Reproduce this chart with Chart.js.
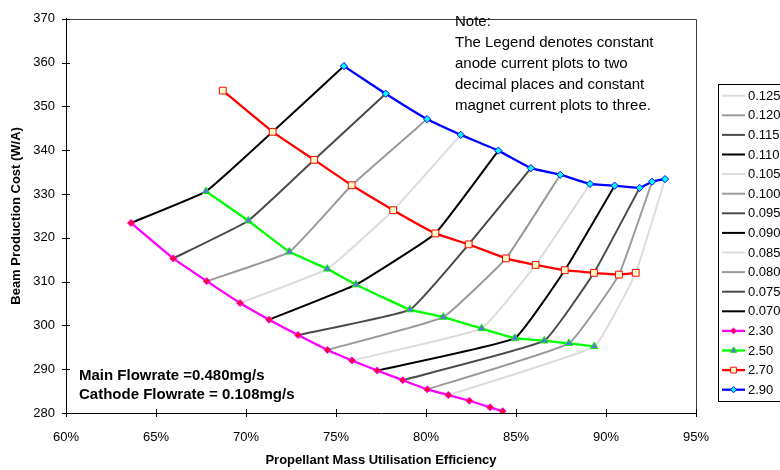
<!DOCTYPE html>
<html><head><meta charset="utf-8">
<script src="https://cdn.jsdelivr.net/npm/chart.js@4.4.1/dist/chart.umd.min.js"></script>
<style>html,body{margin:0;padding:0;background:#fff}canvas{display:block}</style>
</head><body>
<canvas id="c" width="780" height="470"></canvas>
<script>
const FONT = "'Liberation Sans', Arial, Helvetica, sans-serif";

// x: Propellant Mass Utilisation Efficiency (%), y: Beam Production Cost (W/A)
// constant anode current series, with the magnet current of each point
const anodeLabels = ['2.30', '2.50', '2.70', '2.90'];

const a230x = [63.61, 65.96, 67.82, 69.67, 71.28, 72.89, 74.52, 75.89, 77.29, 78.71, 80.07, 81.24, 82.41, 83.56, 84.26];
const a230y = [323.4, 315.3, 310.1, 305.1, 301.3, 297.8, 294.4, 292.0, 289.7, 287.5, 285.4, 284.1, 282.8, 281.3, 280.4];
const a230m = ['0.070','0.075','0.080','0.085','0.090','0.095','0.100','0.105','0.110','0.115','0.120','0.125', null, null, null];

const a250x = [67.78, 70.13, 72.41, 74.52, 76.11, 79.11, 80.96, 83.09, 84.94, 86.57, 87.94, 89.35];
const a250y = [330.6, 323.9, 316.8, 312.9, 309.3, 303.6, 301.9, 299.3, 297.1, 296.5, 295.9, 295.2];
const a250m = ['0.070','0.075','0.080','0.085','0.090','0.095','0.100','0.105','0.110','0.115','0.120','0.125'];

const a270x = [68.71, 71.48, 73.79, 75.87, 78.18, 80.52, 82.37, 84.44, 86.09, 87.71, 89.33, 90.72, 91.65];
const a270y = [353.6, 344.2, 337.8, 332.0, 326.3, 321.0, 318.5, 315.3, 313.8, 312.6, 312.0, 311.6, 312.0];
const a270m = [null, '0.070','0.075','0.080','0.085','0.090','0.095','0.100','0.105','0.110','0.115','0.120','0.125'];

const a290x = [75.44, 77.76, 80.06, 81.93, 84.02, 85.83, 87.46, 89.11, 90.48, 91.87, 92.56, 93.28];
const a290y = [359.2, 352.9, 347.1, 343.5, 339.9, 335.9, 334.4, 332.3, 331.9, 331.4, 332.8, 333.4];
const a290m = ['0.070','0.075','0.080','0.085','0.090','0.095','0.100','0.105','0.110','0.115','0.120','0.125'];

// constant magnet current lines
const magnetLabels = ['0.070','0.075','0.080','0.085','0.090','0.095','0.100','0.105','0.110','0.115','0.120','0.125'];

const xTicks = [60, 65, 70, 75, 80, 85, 90, 95];
const yTicks = [280, 290, 300, 310, 320, 330, 340, 350, 360, 370];

// ---- styles ----
const anodeSeries = [
  {x: a230x, y: a230y, m: a230m},
  {x: a250x, y: a250y, m: a250m},
  {x: a270x, y: a270y, m: a270m},
  {x: a290x, y: a290y, m: a290m}
];
const anodeStyle = [
  {line: '#ff00ff', fill: '#ff0033', stroke: '#ff00ff', style: 'rectRot', r: 3.5},
  {line: '#00ff00', fill: '#6a6af0', stroke: '#00ee00', style: 'triangle', r: 4.3},
  {line: '#ff0000', fill: '#ffffc8', stroke: '#ff0000', style: 'rect', r: 4.8},
  {line: '#0000ff', fill: '#00ffff', stroke: '#0000ff', style: 'rectRot', r: 3.6}
];
const magnetColors = ['#000000', '#4a4a4a', '#9a9a9a', '#dcdcdc'];

const datasets = [];
magnetLabels.forEach((lab, i) => {
  const pts = [];
  anodeSeries.forEach(s => {
    const k = s.m.indexOf(lab);
    if (k >= 0) pts.push({x: s.x[k], y: s.y[k]});
  });
  datasets.push({
    label: lab, data: pts, showLine: true, order: 2,
    borderColor: magnetColors[i % 4], backgroundColor: magnetColors[i % 4],
    borderWidth: 2, pointRadius: 0, pointHoverRadius: 0, tension: 0.1, fill: false
  });
});
anodeSeries.forEach((s, i) => {
  const st = anodeStyle[i];
  datasets.push({
    label: anodeLabels[i], data: s.x.map((v, k) => ({x: v, y: s.y[k]})),
    showLine: true, order: 1, borderColor: st.line, borderWidth: 2.3, tension: 0.1, fill: false,
    pointStyle: st.style, pointRadius: st.r, pointHoverRadius: st.r,
    pointBackgroundColor: st.fill, pointBorderColor: st.stroke, pointBorderWidth: 1
  });
});

function drawMarker(ctx, style, r, x, y) {
  ctx.beginPath();
  if (style === 'rect') {
    const s = Math.SQRT1_2 * r;
    ctx.rect(x - s, y - s, 2 * s, 2 * s);
  } else if (style === 'rectRot') {
    ctx.moveTo(x, y - r); ctx.lineTo(x + r, y); ctx.lineTo(x, y + r); ctx.lineTo(x - r, y); ctx.closePath();
  } else if (style === 'triangle') {
    ctx.moveTo(x, y - r); ctx.lineTo(x + r * 0.866, y + r * 0.5); ctx.lineTo(x - r * 0.866, y + r * 0.5); ctx.closePath();
  }
  ctx.fill(); ctx.stroke();
}

const decor = {
  id: 'decor',
  beforeDatasetsDraw(chart) {
    const ctx = chart.ctx, ca = chart.chartArea;
    const xs = chart.scales.x, ys = chart.scales.y;
    ctx.save();
    ctx.lineWidth = 1;
    ctx.strokeStyle = '#404040';
    ctx.beginPath();
    ctx.moveTo(ca.left, Math.round(ca.top) + 0.5);
    ctx.lineTo(Math.round(ca.right) + 0.5, Math.round(ca.top) + 0.5);
    ctx.lineTo(Math.round(ca.right) + 0.5, ca.bottom);
    ctx.stroke();
    ctx.strokeStyle = '#000';
    ctx.beginPath();
    yTicks.forEach(v => {
      const y = Math.round(ys.getPixelForValue(v)) + 0.5;
      ctx.moveTo(ca.left - 4, y); ctx.lineTo(ca.left + 4, y);
    });
    xTicks.forEach(v => {
      const x = Math.round(xs.getPixelForValue(v)) + 0.5;
      ctx.moveTo(x, ca.bottom - 4); ctx.lineTo(x, ca.bottom + 4);
    });
    ctx.stroke();
    ctx.restore();
  },
  afterDraw(chart) {
    const ctx = chart.ctx;
    ctx.save();
    // notes
    ctx.fillStyle = '#000';
    ctx.textBaseline = 'alphabetic';
    ctx.textAlign = 'left';
    ctx.font = '15px ' + FONT;
    const note = ['Note:', 'The Legend denotes constant', 'anode current plots to two',
                  'decimal places and constant', 'magnet current plots to three.'];
    note.forEach((t, i) => ctx.fillText(t, 455, 26 + i * 21));
    ctx.font = 'bold 15px ' + FONT;
    ctx.fillText('Main Flowrate =0.480mg/s', 79, 380);
    ctx.fillText('Cathode Flowrate = 0.108mg/s', 79, 399);

    // legend
    ctx.lineWidth = 1;
    ctx.strokeStyle = '#000';
    ctx.strokeRect(718.5, 84.5, 80, 317);
    ctx.font = '13px ' + FONT;
    ctx.textBaseline = 'middle';
    const order = [];
    for (let i = magnetLabels.length - 1; i >= 0; i--) order.push(i);
    for (let i = 0; i < anodeLabels.length; i++) order.push(magnetLabels.length + i);
    order.forEach((di, row) => {
      const ds = chart.data.datasets[di];
      const y = 95.7 + row * 19.6;
      ctx.strokeStyle = ds.borderColor;
      ctx.lineWidth = ds.borderWidth;
      ctx.beginPath(); ctx.moveTo(722, y); ctx.lineTo(745, y); ctx.stroke();
      if (di >= magnetLabels.length) {
        const st = anodeStyle[di - magnetLabels.length];
        ctx.fillStyle = st.fill; ctx.strokeStyle = st.stroke; ctx.lineWidth = 1;
        drawMarker(ctx, st.style, st.r * 0.85, 733.5, y);
      }
      ctx.fillStyle = '#000';
      ctx.fillText(ds.label, 748, y + 0.5);
    });
    ctx.restore();
  }
};

new Chart(document.getElementById('c'), {
  type: 'scatter',
  data: {datasets},
  options: {
    responsive: false, animation: false, devicePixelRatio: 1,
    layout: {padding: {top: 13, right: 84, left: 0, bottom: 0}},
    plugins: {legend: {display: false}, tooltip: {enabled: false}},
    events: [],
    scales: {
      x: {
        type: 'linear', min: 60, max: 95,
        afterFit: s => { s.height = 57; },
        afterBuildTicks: s => { s.ticks = xTicks.map(v => ({value: v})); },
        ticks: {color: '#000', font: {family: FONT, size: 13}, padding: 17, maxRotation: 0,
                callback: v => v + '%'},
        grid: {display: false, drawTicks: false},
        border: {display: true, color: '#000', width: 1},
        title: {display: true, text: 'Propellant Mass Utilisation Efficiency', color: '#000',
                font: {family: FONT, size: 13, weight: 'bold'}, padding: {top: 0, bottom: 2}}
      },
      y: {
        type: 'linear', min: 280, max: 370,
        afterFit: s => { s.width = 66; },
        afterBuildTicks: s => { s.ticks = yTicks.map(v => ({value: v})); },
        ticks: {color: '#000', font: {family: FONT, size: 13}, padding: 11},
        grid: {display: false, drawTicks: false},
        border: {display: true, color: '#000', width: 1},
        title: {display: true, text: 'Beam Production Cost (W/A)', color: '#000',
                font: {family: FONT, size: 13, weight: 'bold'}, padding: {top: 9, bottom: 0}}
      }
    }
  },
  plugins: [decor]
});
</script>
</body></html>
